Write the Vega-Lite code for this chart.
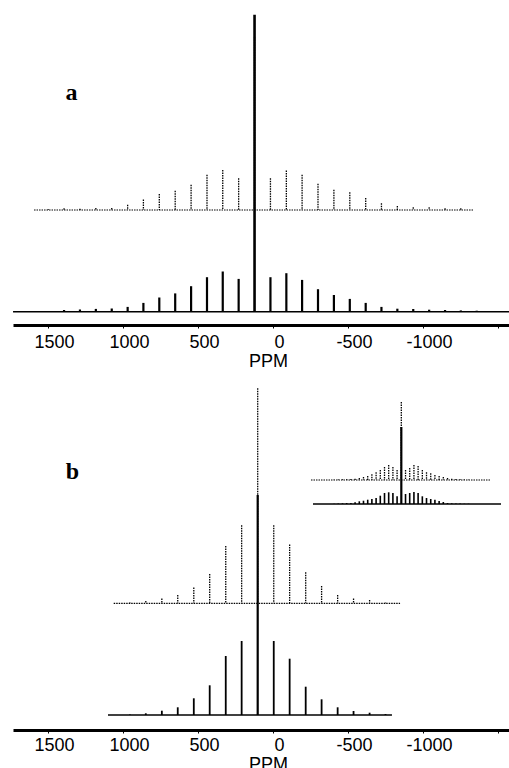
{
  "$schema": "https://vega.github.io/schema/vega-lite/v6.json",
  "padding": {"left": 12, "top": 10, "right": 0, "bottom": 0},
  "background": "white",
  "config": {"view": {"stroke": null}, "axis": {"grid": false}},
  "bounds": "flush",
  "spacing": 60,
  "datasets": {
    "aSolid": [
      {"ppm": 1498, "intensity": 0.7}, {"ppm": 1393, "intensity": 1.7}, {"ppm": 1287, "intensity": 2.2},
      {"ppm": 1181, "intensity": 2.8}, {"ppm": 1075, "intensity": 3.2}, {"ppm": 969, "intensity": 4.8},
      {"ppm": 864, "intensity": 8.8}, {"ppm": 758, "intensity": 14.2}, {"ppm": 652, "intensity": 18.3},
      {"ppm": 546, "intensity": 25.5}, {"ppm": 440, "intensity": 34.5}, {"ppm": 335, "intensity": 40.2},
      {"ppm": 229, "intensity": 32.8}, {"ppm": 123, "intensity": 297}, {"ppm": 17, "intensity": 34.5},
      {"ppm": -89, "intensity": 38.5}, {"ppm": -194, "intensity": 31.8}, {"ppm": -300, "intensity": 22.5},
      {"ppm": -406, "intensity": 16.7}, {"ppm": -512, "intensity": 12.8}, {"ppm": -618, "intensity": 8.8},
      {"ppm": -723, "intensity": 4.8}, {"ppm": -829, "intensity": 3}, {"ppm": -935, "intensity": 2.7},
      {"ppm": -1041, "intensity": 2}, {"ppm": -1147, "intensity": 1.7}, {"ppm": -1252, "intensity": 1.3},
      {"ppm": -1358, "intensity": 1}
    ],
    "aDotted": [
      {"ppm": 1498, "intensity": 0.7}, {"ppm": 1393, "intensity": 1.7}, {"ppm": 1287, "intensity": 1.3},
      {"ppm": 1181, "intensity": 2}, {"ppm": 1075, "intensity": 2}, {"ppm": 969, "intensity": 5.3},
      {"ppm": 864, "intensity": 10.5}, {"ppm": 758, "intensity": 16}, {"ppm": 652, "intensity": 19.2},
      {"ppm": 546, "intensity": 25.2}, {"ppm": 440, "intensity": 35.2}, {"ppm": 335, "intensity": 40},
      {"ppm": 229, "intensity": 31.7}, {"ppm": 123, "intensity": 173}, {"ppm": 17, "intensity": 31.7},
      {"ppm": -89, "intensity": 39.5}, {"ppm": -194, "intensity": 35.2}, {"ppm": -300, "intensity": 26.3},
      {"ppm": -406, "intensity": 20.2}, {"ppm": -512, "intensity": 17.7}, {"ppm": -618, "intensity": 12},
      {"ppm": -723, "intensity": 6.7}, {"ppm": -829, "intensity": 4}, {"ppm": -935, "intensity": 2.7},
      {"ppm": -1041, "intensity": 2.7}, {"ppm": -1147, "intensity": 1.7}, {"ppm": -1252, "intensity": 1.7}
    ],
    "bSolid": [
      {"ppm": 954, "intensity": 0.5}, {"ppm": 848, "intensity": 1.7}, {"ppm": 741, "intensity": 4.3},
      {"ppm": 635, "intensity": 7.7}, {"ppm": 528, "intensity": 16.7}, {"ppm": 422, "intensity": 29.7},
      {"ppm": 315, "intensity": 59}, {"ppm": 209, "intensity": 74}, {"ppm": 102, "intensity": 220},
      {"ppm": -5, "intensity": 74}, {"ppm": -111, "intensity": 56.3}, {"ppm": -218, "intensity": 28.3},
      {"ppm": -324, "intensity": 15.7}, {"ppm": -431, "intensity": 7.7}, {"ppm": -537, "intensity": 4},
      {"ppm": -644, "intensity": 2.3}, {"ppm": -750, "intensity": 1}
    ],
    "bDotted": [
      {"ppm": 954, "intensity": 0.7}, {"ppm": 848, "intensity": 2.3}, {"ppm": 741, "intensity": 4.7},
      {"ppm": 635, "intensity": 8.3}, {"ppm": 528, "intensity": 15.7}, {"ppm": 422, "intensity": 29.3},
      {"ppm": 315, "intensity": 57.3}, {"ppm": 209, "intensity": 78}, {"ppm": 102, "intensity": 215},
      {"ppm": -5, "intensity": 78}, {"ppm": -111, "intensity": 58.7}, {"ppm": -218, "intensity": 31},
      {"ppm": -324, "intensity": 17.3}, {"ppm": -431, "intensity": 8.3}, {"ppm": -537, "intensity": 4.7},
      {"ppm": -644, "intensity": 3.3}, {"ppm": -750, "intensity": 0.7}
    ],
    "insetSolid": [
      {"ppm": 1806, "intensity": 0.3}, {"ppm": 1700, "intensity": 0.5}, {"ppm": 1593, "intensity": 0.7},
      {"ppm": 1487, "intensity": 1}, {"ppm": 1380, "intensity": 1}, {"ppm": 1274, "intensity": 1.7},
      {"ppm": 1167, "intensity": 2.7}, {"ppm": 1061, "intensity": 3.3}, {"ppm": 954, "intensity": 4.3},
      {"ppm": 848, "intensity": 5}, {"ppm": 741, "intensity": 6}, {"ppm": 635, "intensity": 8.3},
      {"ppm": 528, "intensity": 11}, {"ppm": 422, "intensity": 11.7}, {"ppm": 315, "intensity": 11},
      {"ppm": 209, "intensity": 7.7}, {"ppm": 102, "intensity": 77}, {"ppm": -5, "intensity": 10},
      {"ppm": -111, "intensity": 11}, {"ppm": -218, "intensity": 12}, {"ppm": -324, "intensity": 11},
      {"ppm": -431, "intensity": 7.7}, {"ppm": -537, "intensity": 6}, {"ppm": -644, "intensity": 5},
      {"ppm": -750, "intensity": 4.3}, {"ppm": -857, "intensity": 3}, {"ppm": -963, "intensity": 2},
      {"ppm": -1070, "intensity": 1}, {"ppm": -1176, "intensity": 0.7}, {"ppm": -1283, "intensity": 0.5},
      {"ppm": -1389, "intensity": 0.5}, {"ppm": -1496, "intensity": 0.3}, {"ppm": -1602, "intensity": 0.3}
    ],
    "insetDotted": [
      {"ppm": 1806, "intensity": 0.3}, {"ppm": 1700, "intensity": 0.5}, {"ppm": 1593, "intensity": 0.7},
      {"ppm": 1487, "intensity": 0.7}, {"ppm": 1380, "intensity": 1}, {"ppm": 1274, "intensity": 1.3},
      {"ppm": 1167, "intensity": 2}, {"ppm": 1061, "intensity": 3}, {"ppm": 954, "intensity": 4},
      {"ppm": 848, "intensity": 5.7}, {"ppm": 741, "intensity": 7.7}, {"ppm": 635, "intensity": 10},
      {"ppm": 528, "intensity": 13}, {"ppm": 422, "intensity": 15}, {"ppm": 315, "intensity": 13},
      {"ppm": 209, "intensity": 10}, {"ppm": 102, "intensity": 78}, {"ppm": -5, "intensity": 10},
      {"ppm": -111, "intensity": 12}, {"ppm": -218, "intensity": 15}, {"ppm": -324, "intensity": 14},
      {"ppm": -431, "intensity": 10}, {"ppm": -537, "intensity": 7.7}, {"ppm": -644, "intensity": 6.7},
      {"ppm": -750, "intensity": 5}, {"ppm": -857, "intensity": 4}, {"ppm": -963, "intensity": 3},
      {"ppm": -1070, "intensity": 2}, {"ppm": -1176, "intensity": 1.3}, {"ppm": -1283, "intensity": 1},
      {"ppm": -1389, "intensity": 0.7}, {"ppm": -1496, "intensity": 0.5}, {"ppm": -1602, "intensity": 0.3}
    ],
    "baselines": [
      {"spectrum": "aSolid", "from": 1733, "to": -1580},
      {"spectrum": "aDotted", "from": 1593, "to": -1340},
      {"spectrum": "bSolid", "from": 1100, "to": -793},
      {"spectrum": "bDotted", "from": 1062, "to": -847},
      {"spectrum": "insetSolid", "from": 2341, "to": -2426},
      {"spectrum": "insetDotted", "from": 2392, "to": -2173}
    ],
    "labels": [
      {"panel": "a", "label": "a", "ppm": 1343, "level": 211.7},
      {"panel": "b", "label": "b", "ppm": 1337, "level": 236}
    ]
  },
  "vconcat": [
    {
      "width": 497,
      "height": 315,
      "resolve": {"scale": {"x": "independent", "y": "independent"}},
      "layer": [
        {
          "data": {"name": "baselines"},
          "transform": [{"filter": "datum.spectrum == 'aSolid'"}],
          "mark": {"type": "rule", "color": "black", "strokeWidth": 1.6},
          "encoding": {
            "x": {"field": "from", "type": "quantitative", "scale": {"domain": [-1580, 1733.3], "reverse": true, "nice": false, "zero": false}, "axis": null},
            "x2": {"field": "to"},
            "y": {"datum": 0, "type": "quantitative", "scale": {"domain": [-13.3, 301.7], "nice": false, "zero": false}, "axis": null}
          }
        },
        {
          "data": {"name": "aSolid"},
          "mark": {"type": "rule", "color": "black"},
          "encoding": {
            "x": {"field": "ppm", "type": "quantitative", "scale": {"domain": [-1580, 1733.3], "reverse": true, "nice": false, "zero": false},
              "axis": {"values": [1500, 1000, 500, 0, -500, -1000, -1500], "labelExpr": "datum.value == -1500 ? '' : '' + datum.value", "title": "PPM", "grid": false, "domainColor": "black", "domainWidth": 2.8, "tickColor": "black", "tickSize": 3, "tickWidth": 1, "labelFont": "Liberation Sans", "labelFontSize": 18, "labelColor": "black", "labelPadding": 5, "labelOffset": 6, "labelFlush": false, "labelOverlap": false, "titleFont": "Liberation Sans", "titleFontSize": 18, "titleFontWeight": "normal", "titleColor": "black", "titlePadding": 1, "titleX": 255}},
            "y": {"field": "intensity", "type": "quantitative", "scale": {"domain": [-13.3, 301.7], "nice": false, "zero": false}, "axis": null},
            "y2": {"datum": 0},
            "strokeWidth": {"condition": {"test": "datum.intensity > 100", "value": 2.6}, "value": 2.2}
          }
        },
        {
          "data": {"name": "baselines"},
          "transform": [{"filter": "datum.spectrum == 'aDotted'"}],
          "mark": {"type": "rule", "color": "black", "strokeWidth": 1.2, "strokeDash": [1.5, 1]},
          "encoding": {
            "x": {"field": "from", "type": "quantitative", "scale": {"domain": [-1580, 1733.3], "reverse": true, "nice": false, "zero": false}, "axis": null},
            "x2": {"field": "to"},
            "y": {"datum": 0, "type": "quantitative", "scale": {"domain": [-115, 200], "nice": false, "zero": false}, "axis": null}
          }
        },
        {
          "data": {"name": "aDotted"},
          "mark": {"type": "rule", "color": "black", "strokeWidth": 1.3, "strokeDash": [1.5, 1]},
          "encoding": {
            "x": {"field": "ppm", "type": "quantitative", "scale": {"domain": [-1580, 1733.3], "reverse": true, "nice": false, "zero": false}, "axis": null},
            "y": {"field": "intensity", "type": "quantitative", "scale": {"domain": [-115, 200], "nice": false, "zero": false}, "axis": null},
            "y2": {"datum": 0}
          }
        },
        {
          "data": {"name": "labels"},
          "transform": [{"filter": "datum.panel == 'a'"}],
          "mark": {"type": "text", "font": "Liberation Serif", "fontWeight": "bold", "fontSize": 24, "color": "black", "align": "center", "baseline": "alphabetic"},
          "encoding": {
            "x": {"field": "ppm", "type": "quantitative", "scale": {"domain": [-1580, 1733.3], "reverse": true, "nice": false, "zero": false}, "axis": null},
            "y": {"field": "level", "type": "quantitative", "scale": {"domain": [-13.3, 301.7], "nice": false, "zero": false}, "axis": null},
            "text": {"field": "label"}
          }
        }
      ]
    },
    {
      "width": 497,
      "height": 345,
      "resolve": {"scale": {"x": "independent", "y": "independent"}},
      "layer": [
        {
          "data": {"name": "baselines"},
          "transform": [{"filter": "datum.spectrum == 'bSolid'"}],
          "mark": {"type": "rule", "color": "black", "strokeWidth": 1.6},
          "encoding": {
            "x": {"field": "from", "type": "quantitative", "scale": {"domain": [-1580, 1733.3], "reverse": true, "nice": false, "zero": false}, "axis": null},
            "x2": {"field": "to"},
            "y": {"datum": 0, "type": "quantitative", "scale": {"domain": [-15, 330], "nice": false, "zero": false}, "axis": null}
          }
        },
        {
          "data": {"name": "bSolid"},
          "mark": {"type": "rule", "color": "black"},
          "encoding": {
            "x": {"field": "ppm", "type": "quantitative", "scale": {"domain": [-1580, 1733.3], "reverse": true, "nice": false, "zero": false},
              "axis": {"values": [1500, 1000, 500, 0, -500, -1000, -1500], "labelExpr": "datum.value == -1500 ? '' : '' + datum.value", "title": "PPM", "grid": false, "domainColor": "black", "domainWidth": 2.8, "tickColor": "black", "tickSize": 3, "tickWidth": 1, "labelFont": "Liberation Sans", "labelFontSize": 18, "labelColor": "black", "labelPadding": 3, "labelOffset": 6, "labelFlush": false, "labelOverlap": false, "titleFont": "Liberation Sans", "titleFontSize": 18, "titleFontWeight": "normal", "titleColor": "black", "titlePadding": 1, "titleX": 255}},
            "y": {"field": "intensity", "type": "quantitative", "scale": {"domain": [-15, 330], "nice": false, "zero": false}, "axis": null},
            "y2": {"datum": 0},
            "strokeWidth": {"condition": {"test": "datum.intensity > 100", "value": 2.2}, "value": 1.8}
          }
        },
        {
          "data": {"name": "baselines"},
          "transform": [{"filter": "datum.spectrum == 'bDotted'"}],
          "mark": {"type": "rule", "color": "black", "strokeWidth": 1.2, "strokeDash": [1.5, 1]},
          "encoding": {
            "x": {"field": "from", "type": "quantitative", "scale": {"domain": [-1580, 1733.3], "reverse": true, "nice": false, "zero": false}, "axis": null},
            "x2": {"field": "to"},
            "y": {"datum": 0, "type": "quantitative", "scale": {"domain": [-126.7, 218.3], "nice": false, "zero": false}, "axis": null}
          }
        },
        {
          "data": {"name": "bDotted"},
          "mark": {"type": "rule", "color": "black", "strokeWidth": 1.3, "strokeDash": [1.5, 1]},
          "encoding": {
            "x": {"field": "ppm", "type": "quantitative", "scale": {"domain": [-1580, 1733.3], "reverse": true, "nice": false, "zero": false}, "axis": null},
            "y": {"field": "intensity", "type": "quantitative", "scale": {"domain": [-126.7, 218.3], "nice": false, "zero": false}, "axis": null},
            "y2": {"datum": 0}
          }
        },
        {
          "data": {"name": "baselines"},
          "transform": [{"filter": "datum.spectrum == 'insetSolid'"}],
          "mark": {"type": "rule", "color": "black", "strokeWidth": 1.6},
          "encoding": {
            "x": {"field": "from", "type": "quantitative", "scale": {"domain": [-2654, 9948], "reverse": true, "nice": false, "zero": false}, "axis": null},
            "x2": {"field": "to"},
            "y": {"datum": 0, "type": "quantitative", "scale": {"domain": [-226, 119], "nice": false, "zero": false}, "axis": null}
          }
        },
        {
          "data": {"name": "insetSolid"},
          "mark": {"type": "rule", "color": "black"},
          "encoding": {
            "x": {"field": "ppm", "type": "quantitative", "scale": {"domain": [-2654, 9948], "reverse": true, "nice": false, "zero": false}, "axis": null},
            "y": {"field": "intensity", "type": "quantitative", "scale": {"domain": [-226, 119], "nice": false, "zero": false}, "axis": null},
            "y2": {"datum": 0},
            "strokeWidth": {"condition": {"test": "datum.intensity > 50", "value": 2.2}, "value": 1.6}
          }
        },
        {
          "data": {"name": "baselines"},
          "transform": [{"filter": "datum.spectrum == 'insetDotted'"}],
          "mark": {"type": "rule", "color": "black", "strokeWidth": 1.2, "strokeDash": [1.5, 1]},
          "encoding": {
            "x": {"field": "from", "type": "quantitative", "scale": {"domain": [-2654, 9948], "reverse": true, "nice": false, "zero": false}, "axis": null},
            "x2": {"field": "to"},
            "y": {"datum": 0, "type": "quantitative", "scale": {"domain": [-250, 95], "nice": false, "zero": false}, "axis": null}
          }
        },
        {
          "data": {"name": "insetDotted"},
          "mark": {"type": "rule", "color": "black", "strokeWidth": 1.3, "strokeDash": [1.5, 1]},
          "encoding": {
            "x": {"field": "ppm", "type": "quantitative", "scale": {"domain": [-2654, 9948], "reverse": true, "nice": false, "zero": false}, "axis": null},
            "y": {"field": "intensity", "type": "quantitative", "scale": {"domain": [-250, 95], "nice": false, "zero": false}, "axis": null},
            "y2": {"datum": 0}
          }
        },
        {
          "data": {"name": "labels"},
          "transform": [{"filter": "datum.panel == 'b'"}],
          "mark": {"type": "text", "font": "Liberation Serif", "fontWeight": "bold", "fontSize": 24, "color": "black", "align": "center", "baseline": "alphabetic"},
          "encoding": {
            "x": {"field": "ppm", "type": "quantitative", "scale": {"domain": [-1580, 1733.3], "reverse": true, "nice": false, "zero": false}, "axis": null},
            "y": {"field": "level", "type": "quantitative", "scale": {"domain": [-15, 330], "nice": false, "zero": false}, "axis": null},
            "text": {"field": "label"}
          }
        }
      ]
    }
  ]
}
